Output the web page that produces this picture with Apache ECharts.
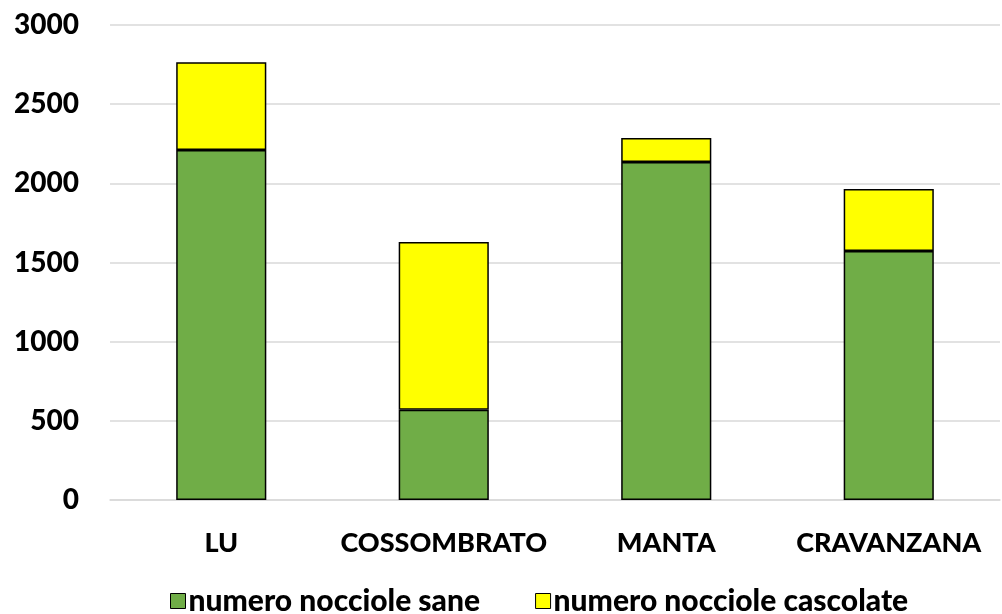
<!DOCTYPE html>
<html>
<head>
<meta charset="utf-8">
<script src="https://cdn.jsdelivr.net/npm/echarts@6/dist/echarts.min.js"></script>
<style>html,body{margin:0;padding:0;background:#fff}#c{width:1002px;height:614px}</style>
</head>
<body>
<div id="c"></div>
<script>
const categories = ['LU', 'COSSOMBRATO', 'MANTA', 'CRAVANZANA'];
const sane = [2210, 570, 2135, 1573];
const cascolate = [555, 1060, 152, 392];
const seriesNames = ['numero nocciole sane', 'numero nocciole cascolate'];

const chart = echarts.init(document.getElementById('c'), null, {renderer: 'canvas'});
const font = 'Lato, "Open Sans", sans-serif';
chart.setOption({
  animation: false,
  grid: {left: 110, right: 2, top: 25, bottom: 114, containLabel: false},
  legend: {
    data: seriesNames,
    left: 165, top: 581,
    itemWidth: 15, itemHeight: 15, itemGap: 55,
    icon: 'rect',
    itemStyle: {borderColor: '#000', borderWidth: 1},
    textStyle: {fontFamily: font, fontWeight: 900, fontSize: 30, color: '#000', padding: [0,0,0,-2]}
  },
  xAxis: {
    type: 'category', data: categories,
    axisLine: {lineStyle: {color: '#d9d9d9', width: 1.5}},
    axisTick: {show: false},
    axisLabel: {fontFamily: font, fontWeight: 900, fontSize: 27, color: '#000', margin: 30,
                interval: 0, hideOverlap: false}
  },
  yAxis: {
    type: 'value', min: 0, max: 3000, interval: 500,
    axisLine: {show: false}, axisTick: {show: false},
    splitLine: {lineStyle: {color: '#d9d9d9', width: 1.5}},
    axisLabel: {fontFamily: font, fontWeight: 900, fontSize: 28, color: '#000', margin: 31,
                formatter: v => String(v)}
  },
  series: [
    {name: seriesNames[0], type: 'bar', stack: 's', data: sane, barWidth: '40.5%',
     itemStyle: {color: '#70ad47', borderColor: '#000', borderWidth: 1.5}},
    {name: seriesNames[1], type: 'bar', stack: 's', data: cascolate, barWidth: '40.5%',
     itemStyle: {color: '#ffff00', borderColor: '#000', borderWidth: 1.5}}
  ]
});
</script>
</body>
</html>
